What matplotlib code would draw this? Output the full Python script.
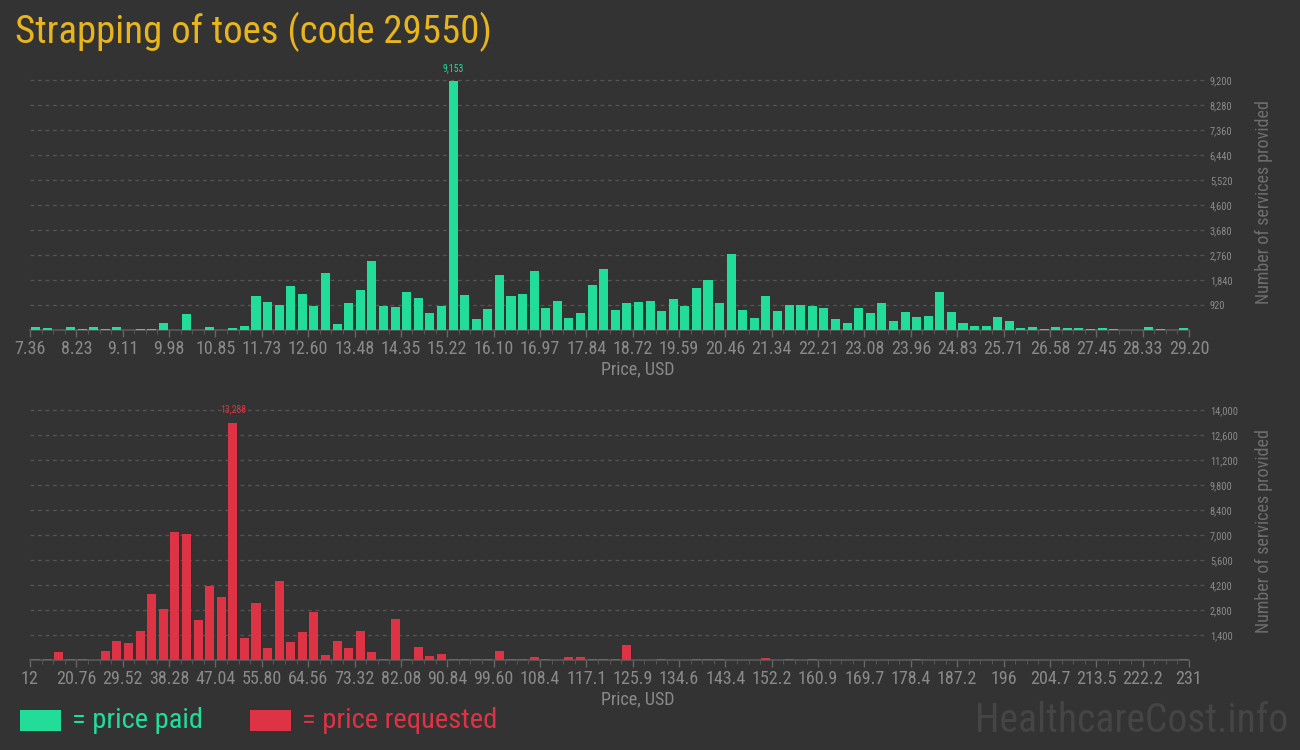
import numpy as np
import matplotlib
matplotlib.use("Agg")
import matplotlib.pyplot as plt
from matplotlib import font_manager
from matplotlib.patches import Rectangle

# ---- data ----
paid_min, paid_max = 7.36, 29.20
paid_counts = [100, 60, 0, 100, 25, 100, 25, 100, 0, 25,
               25, 245, 0, 575, 0, 100, 0, 60, 135, 1237,
               1017, 906, 1605, 1311, 870, 2083, 208, 980, 1458, 2524,
               870, 833, 1384, 1164, 612, 870, 9153, 1274, 392, 760,
               2009, 1237, 1311, 2156, 796, 1054, 429, 612, 1641, 2230,
               723, 980, 1017, 1054, 686, 1127, 870, 1531, 1825, 980,
               2781, 723, 429, 1237, 686, 906, 906, 870, 796, 392,
               245, 796, 612, 980, 318, 649, 466, 502, 1384, 649,
               245, 135, 135, 466, 318, 60, 100, 25, 100, 60,
               60, 25, 60, 25, 0, 0, 100, 25, 0, 60]
paid_ticklabels = ["7.36", "8.23", "9.11", "9.98", "10.85", "11.73", "12.60", "13.48",
                   "14.35", "15.22", "16.10", "16.97", "17.84", "18.72", "19.59", "20.46",
                   "21.34", "22.21", "23.08", "23.96", "24.83", "25.71", "26.58", "27.45",
                   "28.33", "29.20"]
paid_yticks = [920, 1840, 2760, 3680, 4600, 5520, 6440, 7360, 8280, 9200]

req_min, req_max = 12, 231
req_counts = [40, 40, 429, 40, 40, 0, 485, 1081, 969, 1640,
              3709, 2871, 7176, 7065, 2255, 4157, 3542, 13288, 1249, 3206,
              690, 4436, 1025, 1584, 2703, 298, 1081, 690, 1640, 466,
              75, 2311, 40, 746, 242, 354, 75, 75, 40, 40,
              522, 75, 75, 186, 75, 0, 186, 186, 40, 75,
              40, 857, 0, 0, 40, 0, 0, 40, 75, 75,
              0, 0, 0, 130, 0, 75, 0, 40, 0, 0,
              0, 0, 0, 0, 0, 0, 75, 0, 0, 0,
              0, 0, 0, 0, 0, 0, 0, 0, 0, 0,
              0, 0, 0, 0, 0, 0, 0, 0, 0, 40]
req_ticklabels = ["12", "20.76", "29.52", "38.28", "47.04", "55.80", "64.56", "73.32",
                  "82.08", "90.84", "99.60", "108.4", "117.1", "125.9", "134.6", "143.4",
                  "152.2", "160.9", "169.7", "178.4", "187.2", "196", "204.7", "213.5",
                  "222.2", "231"]
req_yticks = [1400, 2800, 4200, 5600, 7000, 8400, 9800, 11200, 12600, 14000]

# ---- style ----
BG = "#333333"
GREEN = "#22dd9a"
RED = "#dd3344"
GOLD = "#e8b51c"
GREY = "#8a8a8a"
GRID = "#555555"

names = {f.name for f in font_manager.fontManager.ttflist}
cond = next((n for n in ["Roboto Condensed", "Liberation Sans Narrow", "Open Sans Condensed"]
             if n in names), "DejaVu Sans")
COND = [cond, "DejaVu Sans"]
MAIN = ["Roboto Condensed", "Roboto", "DejaVu Sans"] if "Roboto Condensed" in names else ["Roboto", "DejaVu Sans"]

fig = plt.figure(figsize=(13, 7.5), dpi=100, facecolor=BG)


def draw_panel(rect, vmin, vmax, counts, ticklabels, yticks, color):
    ax = fig.add_axes(rect, facecolor=BG)
    n = len(counts)
    edges = np.linspace(vmin, vmax, n + 1)
    binw = edges[1] - edges[0]
    centers = edges[:-1] + binw / 2
    ax.bar(centers, counts, width=binw * 0.78, color=color, zorder=3)
    ax.set_xlim(vmin, vmax)
    ax.set_ylim(0, yticks[-1])

    # dashed grid lines that run a bit past the plot into the labels
    for y in yticks:
        ax.axhline(y, xmin=0, xmax=1.014, color=GRID, lw=0.9, ls=(0, (3, 3)),
                   clip_on=False, zorder=1)

    for s in ["top", "left", "right"]:
        ax.spines[s].set_visible(False)
    ax.spines["bottom"].set_color("#5a5a5a")
    ax.spines["bottom"].set_linewidth(1.2)
    ax.spines["bottom"].set_zorder(2)

    ax.set_xticks(edges[::4])
    ax.set_xticklabels(ticklabels, family=COND, fontstretch="condensed")
    ax.set_xticks(edges, minor=True)
    ax.tick_params(axis="x", which="major", length=5, width=1, color="#666666",
                   labelsize=13, labelcolor=GREY, pad=2)
    ax.tick_params(axis="x", which="minor", length=3, width=0.8, color="#555555")

    ax.yaxis.tick_right()
    ax.set_yticks(yticks)
    ax.set_yticklabels([f"{v:,}" for v in yticks], family=COND, fontstretch="condensed")
    ax.tick_params(axis="y", length=0, labelsize=7.5, labelcolor=GREY, pad=15)

    ax.set_xlabel("Price, USD", color=GREY, fontsize=13, family=MAIN)
    ax.xaxis.set_label_coords(0.524, -0.122)

    imax = int(np.argmax(counts))
    ax.annotate(f"{counts[imax]:,}", (centers[imax], counts[imax]), xytext=(0, 6),
                textcoords="offset points", ha="center", va="bottom",
                fontsize=7, color=color, family=COND, fontstretch="condensed")
    return ax


W, H = 1300, 750
ax1 = draw_panel([30 / W, (H - 330) / H, 1159 / W, 250 / H],
                 paid_min, paid_max, paid_counts, paid_ticklabels, paid_yticks, GREEN)
ax2 = draw_panel([30 / W, (H - 660) / H, 1159 / W, 250 / H],
                 req_min, req_max, req_counts, req_ticklabels, req_yticks, RED)

for yc in [202, 531]:
    fig.text(1264 / W, 1 - yc / H, "Number of services provided", rotation=90,
             ha="center", va="center", color="#6e6e6e", fontsize=13, family=MAIN,
             fontstretch="condensed")

# title
fig.text(15 / W, 1 - 32 / H, "Strapping of toes (code 29550)", color=GOLD,
         fontsize=28, family=MAIN, ha="left", va="center")

# legend
fig.patches.append(Rectangle((20 / W, 1 - 731 / H), 41 / W, 21 / H,
                             transform=fig.transFigure, facecolor=GREEN, edgecolor="none"))
fig.text(72 / W, 1 - 720 / H, "= price paid", color=GREEN, fontsize=20.5,
         family=MAIN, ha="left", va="center")
fig.patches.append(Rectangle((250 / W, 1 - 731 / H), 41 / W, 21 / H,
                             transform=fig.transFigure, facecolor=RED, edgecolor="none"))
fig.text(302 / W, 1 - 720 / H, "= price requested", color=RED, fontsize=20.5,
         family=MAIN, ha="left", va="center")

# watermark
fig.text(1288 / W, 1 - 720 / H, "HealthcareCost.info", color="#454545", fontsize=28.5,
         family=MAIN, ha="right", va="center")

fig.savefig("out.png", dpi=100, facecolor=BG)
